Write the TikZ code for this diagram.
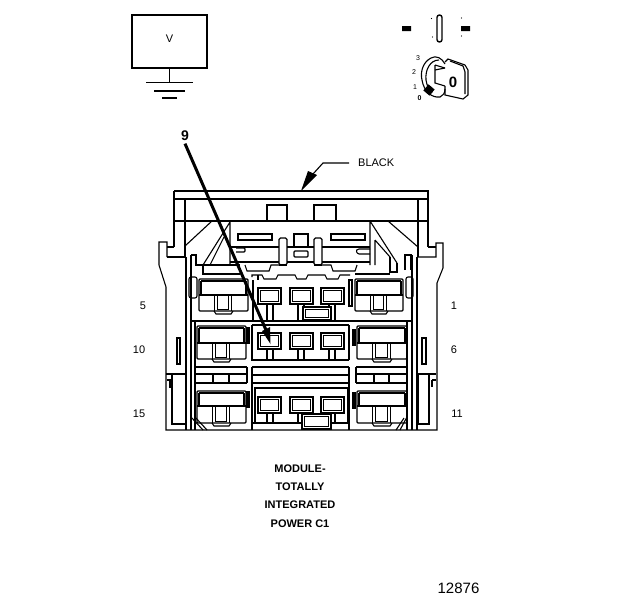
\documentclass[tikz,border=0pt]{standalone}
\usepackage{fontspec}
\setmainfont{Liberation Sans}
\tikzset{
  ln/.style={line width=1.1pt,black},
  hv/.style={line width=2.1pt,black},
  lbl/.style={inner sep=0pt,font=\fontsize{11}{12}\selectfont},
  captxt/.style={inner sep=0pt,font=\fontsize{11}{12}\selectfont\bfseries},
  bigtxt/.style={inner sep=0pt,font=\fontsize{15}{16}\selectfont},
  tinytxt/.style={inner sep=0pt,font=\fontsize{7}{8}\selectfont},
}
% big cavity: #1 left, #2 right, #3 top, #4 divide, #5 bottom
\newcommand{\bigcav}[5]{%
  \draw[ln,rounded corners=1pt] (#1,#3) rectangle (#2,#5);
  \draw[hv] (#1+2,#3+2) -- (#2-2,#3+2);
  \draw[ln] (#1+2,#3+2) -- (#1+2,#4) (#2-2,#3+2) -- (#2-2,#4);
  \draw[ln] (#1,#4) -- (#1+15.5,#4) -- (#1+15.5,#5);
  \draw[ln] (#2,#4) -- (#2-16.5,#4) -- (#2-16.5,#5);
  \draw[ln] (#1+15.5,#4) -- (#2-16.5,#4) (#1+18.5,#4) -- (#1+18.5,#5-1.5) -- (#2-19.5,#5-1.5) -- (#2-19.5,#4);
  \draw[ln] (#1+15,#5) -- (#1+17,#5+3) -- (#2-17,#5+3) -- (#2-15,#5);
}
% small terminal: #1 left, #2 top
\newcommand{\term}[2]{%
  \draw[ln] (#1,#2) rectangle (#1+23,#2+16);
  \draw[line width=1pt] (#1+2.6,#2+2.6) rectangle (#1+20.4,#2+13.4);
}
\begin{document}
\begin{tikzpicture}[x=1pt,y=-1pt]
\useasboundingbox (0,0) rectangle (624,600);
\fill[white] (0,0) rectangle (624,600);

% meter
\node[draw,line width=1.7pt,minimum width=75pt,minimum height=53pt,inner sep=0pt,outer sep=0pt,anchor=center] (meter) at (169.5,41.5) {};
\node[lbl] (vlabel) at (169.5,39) {V};
\coordinate (gnd) at (169.5,82.5);
\draw[line width=1.9pt] (meter.south) -- (gnd);
\draw[line width=1.6pt] (146,82.5) -- (193,82.5) (154,91) -- (185,91) (162,98) -- (177,98);

% ignition
\fill (402,26) rectangle (411,31) (461,26) rectangle (470,31);
\draw[line width=1.4pt,rounded corners=2.4pt] (437,15) rectangle (442,42);
\fill (431.5,18.5) circle (.6) (432.5,37) circle (.6) (461.5,18) circle (.6) (461.5,36) circle (.6);
\node[tinytxt] (k3) at (418,58) {3};
\node[tinytxt] (k2) at (414,72) {2};
\node[tinytxt] (k1) at (415,87) {1};
\node[tinytxt,font=\fontsize{7}{8}\selectfont\bfseries] (k0) at (419.5,98) {0};
\draw[ln] (445,64) .. controls (442,58) and (436,55) .. (431,58) .. controls (423,62) and (420,72) .. (422,80) .. controls (424,92) and (432,98) .. (440,97) .. controls (443,96) and (445,93) .. (445,89);
\draw[ln] (439,60) .. controls (430,60) and (425,70) .. (426,80) .. controls (427,86) and (429,90) .. (432,93);
\draw[ln] (445,68) -- (435,65) (435,65) -- (435,83) -- (445,86);
\draw[ln] (435,70) -- (445,68);
\draw[ln] (445,62) -- (448,59) -- (465,65) -- (468,70) -- (468,95) -- (463,99) -- (445,95) -- (445,86);
\draw[ln] (450,61) -- (463,66) -- (465,72) -- (465,94);
\fill[rotate around={-40:(429,90)}] (425,86) rectangle (433,94);
\node[inner sep=0pt,font=\fontsize{15}{16}\selectfont\bfseries] (keyo) at (453,82) {0};

% connector shell
\draw[ln] (174,191) -- (428,191) -- (428,247);
\draw[ln] (174,191) -- (174,247);
\draw[ln] (174,199) -- (418,199) (174,221) -- (418,221);
\draw[hv] (174,199) -- (185,199) (174,221) -- (185,221) (418,199) -- (428,199) (418,221) -- (428,221);
\draw[ln] (185,199) -- (185,257) (418,199) -- (418,257);
\draw[ln] (174,247) -- (167,247) (167,257) -- (185,257);
\draw[ln] (167,257) -- (167,242) -- (159,242) -- (159,265) -- (166,287) -- (166,430) -- (437,430) -- (437,283) -- (443,268) -- (443,243) -- (436,243) -- (436,257) -- (418,257);
\draw[ln] (428,247) -- (436,247);
\draw[ln] (186,257) -- (186,430) (191,255) -- (191,430) (412,255) -- (412,430) (417,257) -- (417,430);

% side compartments
\draw[ln] (166,374) -- (186,374) (172,374) -- (172,424) -- (186,424);
\draw[ln] (417,374) -- (436,374) (418,374) -- (418,424) -- (429,424) -- (429,374);
\draw[ln,line width=1.5pt] (170,380) -- (170,388) (432,380) -- (432,387);
\draw[ln] (432,380) -- (436,380) (167,380) -- (172,380);
\draw[ln] (177,338) rectangle (180,364) (422,338) rectangle (426,364);

% upper body
\draw[ln] (267,205) rectangle (287,221) (314,205) rectangle (336,221);
\draw[hv] (267,221) -- (287,221) (314,221) -- (336,221);
\draw[ln] (238,234) rectangle (272,240) (331,234) rectangle (365,240);
\draw[ln] (294,234) rectangle (308,247);
\draw[hv] (294,247) -- (308,247);
\draw[ln,rounded corners=1pt] (294,251) rectangle (308,257);
\draw[ln,rounded corners=1.5pt] (279,238) rectangle (287,265) (314,238) rectangle (322,265);
\draw[hv] (279,265) -- (287,265) (314,265) -- (322,265);
\draw[ln] (230,247) -- (279,247) (287,247) -- (294,247) (308,247) -- (314,247) (322,247) -- (370,247);
\draw[ln] (230,262) -- (279,262) (287,262) -- (314,262) (322,262) -- (370,262);
\draw[ln] (245,265) -- (247,271) -- (269,271) -- (271,265) -- (279,265);
\draw[ln] (322,265) -- (331,265) -- (333,271) -- (355,271) -- (357,265);
\draw[ln] (252,277) -- (252,275) -- (262,275) -- (264,279) -- (276,279) -- (278,275) -- (295,275) -- (297,279) -- (306,279) -- (308,275) -- (325,275) -- (327,279) -- (338,279) -- (340,275) -- (350,275);
\draw[ln,rounded corners=1pt] (236,248) -- (245,248) -- (245,252) -- (236,252);
\draw[ln,rounded corners=1pt] (370,249) -- (358,249) -- (356,251) -- (358,254) -- (370,254);

% diagonals
\draw[ln] (185,246) -- (212,221) (230,222) -- (203,265) (224,237) -- (210,265) (230,222) -- (230,265);
\draw[ln] (388,221) -- (418,247) (370,221) -- (397,263) (375,240) -- (390,257) (370,221) -- (370,265) (375,240) -- (375,265);
\draw[ln] (191,255) -- (196,255) -- (196,265) -- (240,265) (203,265) -- (203,274) -- (240,274);
\draw[ln] (390,257) -- (390,272) -- (397,272) -- (397,263) (405,270) -- (405,255) -- (411,255) -- (411,270);
\draw[ln] (355,274) -- (390,274);

% rows
\draw[line width=1.8pt] (191,321) -- (412,321);
\draw[ln,rounded corners=2pt] (189,277) rectangle (197,298) (406,277) rectangle (413,298);
\bigcav{199}{248}{279}{295}{311}
\bigcav{355}{403}{279}{295}{311}
\bigcav{197}{246}{326}{343}{359}
\bigcav{357}{407}{326}{343}{359}
\bigcav{197}{246}{391}{406}{423}
\bigcav{357}{407}{391}{406}{423}
\draw[ln] (247,328) rectangle (249,343) (247,392) rectangle (249,407) (353,330) rectangle (355,345) (353,393) rectangle (355,408) (349,280) rectangle (352,306);
% compartment bands
\draw[ln] (195,322) -- (195,430) (407,322) -- (407,430);
\draw[ln] (195,367) -- (247,367) (195,374) -- (247,374) (195,383) -- (247,383) (213,374) -- (213,383) (229,374) -- (229,383);
\draw[ln] (247,367) -- (247,383);
\draw[ln] (356,367) -- (407,367) (356,374) -- (407,374) (356,383) -- (407,383) (374,374) -- (374,383) (389,374) -- (389,383) (356,367) -- (356,383);
\draw[ln] (191,417) -- (203,430) (195,417) -- (207,430) (400,430) -- (407,417) (396,430) -- (404,418);
% centre columns
\draw[ln] (253,280) -- (253,320) (252,325) -- (349,325) (252,325) -- (252,360) -- (349,360) (349,325) -- (349,360);
\draw[ln] (252,367) -- (349,367) (252,375) -- (349,375) (252,383) -- (349,383) (252,367) -- (252,430) (349,367) -- (349,430);
\draw[ln] (255,423) -- (255,388) -- (348,388) -- (348,423);
\draw[ln] (252,423) -- (302,423) (331,423) -- (349,423);
\draw[ln] (258,275) -- (258,280);
% terminals
\foreach \tx in {258,290,321}{
  \term{\tx}{288}
  \term{\tx}{333}
  \term{\tx}{397}
}
\foreach \tx/\ty/\te in {267/304/320,267/349/360,298/349/360,329/349/360,267/413/423,298/413/423,329/413/423,298/304/320,329/304/320}{
  \draw[ln] (\tx,\ty) -- (\tx,\te) (\tx+6,\ty) -- (\tx+6,\te);
}
\draw[fill=white,line width=1.1pt] (303,307) rectangle (331,320) (302,414) rectangle (331,429);
\draw[line width=1pt] (305.5,309.5) rectangle (328.5,317.5) (304.5,416.5) rectangle (328.5,426.5);

% labels
\node[lbl] (n5) at (143,305.5) {5};
\node[lbl] (n1) at (454,305.5) {1};
\node[lbl] (n10) at (139,350) {10};
\node[lbl] (n6) at (454,350) {6};
\node[lbl] (n15) at (139,413.5) {15};
\node[lbl] (n11) at (457,413.5) {11};

% black callout
\node[lbl,anchor=west] (black) at (358,163) {BLACK};
\coordinate (blackbend) at (323,163);
\coordinate (blacktip) at (301,191);
\draw[ln] (black.west) ++(-9,0) -- (blackbend) -- (313,174);
\fill (blacktip) -- (308,171) -- (317,175) -- cycle;

% pin 9 leader
\node[inner sep=0pt,font=\fontsize{14}{15}\selectfont\bfseries] (nine) at (185,136) {9};
\coordinate (ninetip) at (270.5,344);
\draw[line width=3pt] (nine.south) ++(0,2.5) -- (266,330);
\fill (ninetip) -- (262,331) -- (270,327) -- cycle;

% captions
\node[captxt] (c1) at (300,469) {MODULE-};
\node[captxt] (c2) at (300,487) {TOTALLY};
\node[captxt] (c3) at (300,505) {INTEGRATED};
\node[captxt] (c4) at (300,524) {POWER C1};
\node[bigtxt] (num) at (458.5,588) {12876};
\end{tikzpicture}
\end{document}
